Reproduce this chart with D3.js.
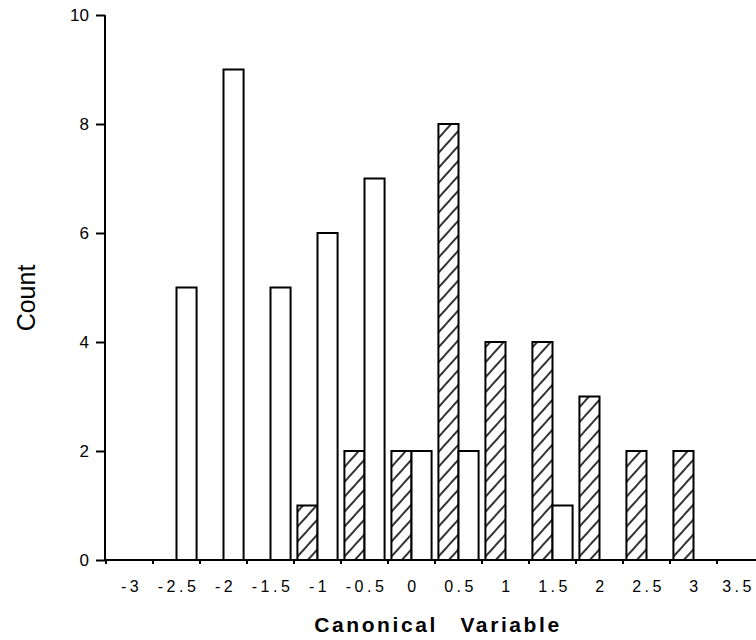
<!DOCTYPE html>
<html>
<head>
<meta charset="utf-8">
<script src="https://cdn.jsdelivr.net/npm/d3@7/dist/d3.min.js"></script>
<style>
  body { margin: 0; background: #fff; }
  svg { display: block; font-family: "Liberation Sans", Arial, sans-serif; }
</style>
</head>
<body>
<div id="chart"></div>
<script>
const bins = ["-3", "-2.5", "-2", "-1.5", "-1", "-0.5", "0", "0.5", "1", "1.5", "2", "2.5", "3", "3.5"];
const groupA = [0, 5, 9, 5, 6, 7, 2, 2, 0, 1, 0, 0, 0, 0];   // open bars
const groupB = [0, 0, 0, 0, 1, 2, 2, 8, 4, 4, 3, 2, 2, 0];   // hatched bars
const yTicks = [0, 2, 4, 6, 8, 10];

const width = 756, height = 640;

const svg = d3.select("#chart")
              .append("svg")
              .attr("width", width)
              .attr("height", height);

// hatch
svg.append("defs").append("pattern")
   .attr("id", "hatch")
   .attr("patternUnits", "userSpaceOnUse")
   .attr("width", 10)
   .attr("height", 10)
   .attr("patternTransform", "rotate(42)")
   .append("line")
   .attr("x1", 5).attr("y1", -2)
   .attr("x2", 5).attr("y2", 12)
   .attr("stroke", "#000")
   .attr("stroke-width", 1.6);

const x = d3.scaleBand().domain(bins).range([106, 764]).paddingInner(0);
const xSub = d3.scaleBand().domain(["B", "A"]).range([0, x.bandwidth()]).paddingOuter(0.17);
const y = d3.scaleLinear().domain([0, 10]).range([560, 15]);

const rows = bins.map((b, i) => ({ bin: b, A: groupA[i], B: groupB[i] }));

// bars
const g = svg.append("g");
g.selectAll("g.bin")
 .data(rows)
 .join("g")
 .attr("class", "bin")
 .attr("transform", d => `translate(${x(d.bin)},0)`)
 .selectAll("rect")
 .data(d => ["B", "A"].map(k => ({ key: k, v: d[k] })).filter(e => e.v > 0))
 .join("rect")
 .attr("x", d => xSub(d.key))
 .attr("width", xSub.bandwidth())
 .attr("y", d => y(d.v))
 .attr("height", d => y(0) - y(d.v))
 .attr("fill", d => d.key === "B" ? "url(#hatch)" : "#fff")
 .attr("stroke", "#000")
 .attr("stroke-width", 2);

// y axis
const yAxis = svg.append("g")
   .attr("transform", "translate(105,0)")
   .call(d3.axisLeft(y).tickValues(yTicks).tickSize(9).tickPadding(7));
yAxis.select(".domain").attr("d", `M0,${y(10)}V${y(0)}`).attr("stroke-width", 2);
yAxis.selectAll(".tick line").attr("stroke-width", 2);
yAxis.selectAll("text").attr("font-size", 17).attr("fill", "#000");

// x axis
const xAxis = svg.append("g")
   .attr("transform", "translate(0,560)")
   .call(d3.axisBottom(x).tickSize(0).tickPadding(21));
xAxis.select(".domain").attr("d", "M105,0H756").attr("stroke-width", 2);
xAxis.selectAll("text")
     .attr("font-size", 16)
     .attr("fill", "#000")
     .attr("letter-spacing", "3.5px")
     .attr("dx", d => d === "3.5" ? -2 : 2);
xAxis.selectAll(".bound")
     .data(bins)
     .join("line")
     .attr("class", "bound")
     .attr("x1", d => x(d)).attr("x2", d => x(d))
     .attr("y1", 0).attr("y2", 4)
     .attr("stroke", "#000")
     .attr("stroke-width", 2);

// labels
svg.append("text")
   .attr("transform", "translate(35,298) rotate(-90)")
   .attr("text-anchor", "middle")
   .attr("font-size", 25)
   .text("Count");

svg.append("text")
   .attr("x", 438)
   .attr("y", 632)
   .attr("text-anchor", "middle")
   .attr("font-size", 21)
   .attr("font-weight", "bold")
   .attr("letter-spacing", "2.6px")
   .attr("word-spacing", "14px")
   .text("Canonical Variable");
</script>
</body>
</html>
